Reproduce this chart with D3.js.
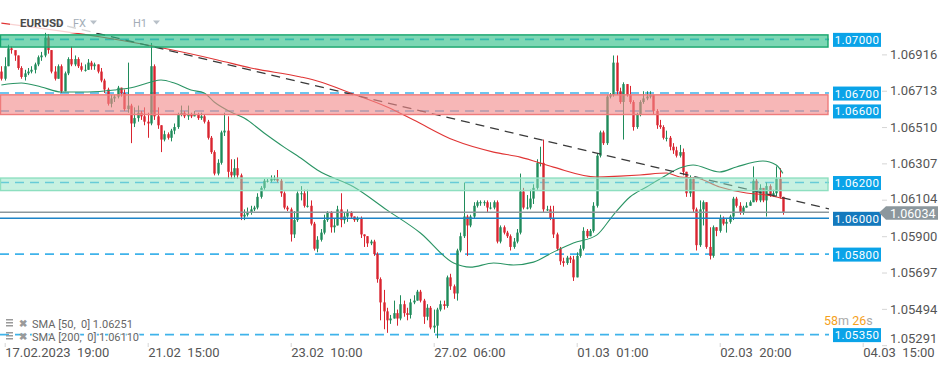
<!DOCTYPE html>
<html>
<head>
<meta charset="utf-8">
<script src="https://cdn.jsdelivr.net/npm/d3@7"></script>
<style>
  body { margin: 0; background: #fff; }
  svg { display: block; font-family: Roboto, "Open Sans", sans-serif; }
</style>
</head>
<body>
<div id="chart"></div>
<script>
// ---- data (EURUSD H1) ----
// bar 0 = 17.02.2023 19:00, one bar per trading hour
var firstBar = -1;
var firstOpen = 1.0682;
var closes = [
  1.0678, 1.0685, 1.0695, 1.0694, 1.0691, 1.0684, 1.0679, 1.0681, 1.0682, 1.0683,
  1.0686, 1.0690, 1.0691, 1.0701, 1.0694, 1.0682, 1.0678, 1.0685, 1.0671, 1.0681,
  1.0689, 1.0686, 1.0689, 1.0685, 1.0683, 1.0683, 1.0687, 1.0685, 1.0686, 1.0682,
  1.0677, 1.0672, 1.0664, 1.0667, 1.0668, 1.0673, 1.0670, 1.0661, 1.0663, 1.0653,
  1.0656, 1.0659, 1.0657, 1.0654, 1.0653, 1.0685, 1.0657, 1.0652, 1.0644, 1.0647,
  1.0645, 1.0649, 1.0651, 1.0658, 1.0659, 1.0657, 1.0658, 1.0657, 1.0658, 1.0656,
  1.0657, 1.0654, 1.0645, 1.0637, 1.0625, 1.0631, 1.0648, 1.0649, 1.0626, 1.0624,
  1.0628, 1.0624, 1.0601, 1.0602, 1.0603, 1.0605, 1.0606, 1.0612, 1.0617, 1.0621,
  1.0621, 1.0622, 1.0622, 1.0621, 1.0614, 1.0606, 1.0605, 1.0591, 1.0599, 1.0614,
  1.0614, 1.0607, 1.0607, 1.0597, 1.0583, 1.0588, 1.0592, 1.0599, 1.0603, 1.0595,
  1.0596, 1.0605, 1.0599, 1.0601, 1.0603, 1.0601, 1.0599, 1.0600, 1.0591, 1.0590,
  1.0586, 1.0587, 1.0580, 1.0566, 1.0553, 1.0548, 1.0543, 1.0544, 1.0547, 1.0544,
  1.0552, 1.0547, 1.0546, 1.0553, 1.0554, 1.0559, 1.0554, 1.0545, 1.0550, 1.0539,
  1.0540, 1.0549, 1.0552, 1.0551, 1.0567, 1.0562, 1.0558, 1.0582, 1.0590, 1.0601,
  1.0596, 1.0601, 1.0607, 1.0609, 1.0609, 1.0609, 1.0606, 1.0606, 1.0609, 1.0587,
  1.0595, 1.0592, 1.0590, 1.0584, 1.0587, 1.0592, 1.0615, 1.0606, 1.0606, 1.0611,
  1.0617, 1.0631, 1.0631, 1.0605, 1.0605, 1.0600, 1.0591, 1.0583, 1.0576, 1.0575,
  1.0578, 1.0577, 1.0567, 1.0579, 1.0583, 1.0593, 1.0590, 1.0593, 1.0607, 1.0635,
  1.0648, 1.0642, 1.0668, 1.0669, 1.0687, 1.0671, 1.0665, 1.0675, 1.0669, 1.0665,
  1.0651, 1.0658, 1.0665, 1.0667, 1.0668, 1.0669, 1.0660, 1.0652, 1.0651, 1.0645,
  1.0645, 1.0640, 1.0638, 1.0635, 1.0637, 1.0626, 1.0614, 1.0622, 1.0605, 1.0585,
  1.0605, 1.0609, 1.0584, 1.0579, 1.0595, 1.0593, 1.0600, 1.0597, 1.0598, 1.0601,
  1.0611, 1.0607, 1.0603, 1.0606, 1.0607, 1.0609, 1.0621, 1.0610, 1.0617, 1.0610,
  1.0618, 1.0613, 1.0614, 1.0622, 1.0612, 1.06034
];
var highs = [
  1.0685, 1.0690, 1.0697, 1.0696, 1.0693, 1.0691, 1.0685, 1.0683, 1.0684, 1.0685,
  1.0687, 1.0691, 1.0693, 1.0704, 1.0703, 1.0694, 1.0685, 1.0686, 1.0686, 1.0682,
  1.0690, 1.0696, 1.0691, 1.0690, 1.0687, 1.0686, 1.0689, 1.0688, 1.0687, 1.0686,
  1.0684, 1.0678, 1.0673, 1.0669, 1.0669, 1.0674, 1.0673, 1.0672, 1.0687, 1.0664,
  1.0662, 1.0663, 1.0660, 1.0662, 1.0659, 1.0698, 1.0686, 1.0662, 1.0652, 1.0649,
  1.0648, 1.0650, 1.0653, 1.0659, 1.0663, 1.0660, 1.0663, 1.0659, 1.0660, 1.0659,
  1.0659, 1.0658, 1.0655, 1.0646, 1.0638, 1.0633, 1.0649, 1.0659, 1.0657, 1.0633,
  1.0633, 1.0634, 1.0625, 1.0605, 1.0606, 1.0607, 1.0607, 1.0614, 1.0618, 1.0622,
  1.0622, 1.0624, 1.0624, 1.0627, 1.0622, 1.0615, 1.0607, 1.0606, 1.0604, 1.0615,
  1.0618, 1.0616, 1.0616, 1.0610, 1.0598, 1.0590, 1.0594, 1.0602, 1.0604, 1.0604,
  1.0600, 1.0607, 1.0614, 1.0603, 1.0605, 1.0604, 1.0601, 1.0601, 1.0601, 1.0591,
  1.0590, 1.0588, 1.0588, 1.0581, 1.0567, 1.0560, 1.0550, 1.0546, 1.0554, 1.0549,
  1.0557, 1.0554, 1.0550, 1.0555, 1.0557, 1.0560, 1.0560, 1.0555, 1.0552, 1.0551,
  1.0549, 1.0550, 1.0554, 1.0554, 1.0568, 1.0569, 1.0563, 1.0583, 1.0592, 1.0620,
  1.0602, 1.0602, 1.0609, 1.0610, 1.0610, 1.0610, 1.0610, 1.0609, 1.0610, 1.0610,
  1.0596, 1.0596, 1.0593, 1.0591, 1.0589, 1.0594, 1.0625, 1.0617, 1.0613, 1.0616,
  1.0619, 1.0633, 1.0640, 1.0644, 1.0607, 1.0607, 1.0607, 1.0592, 1.0584, 1.0578,
  1.0579, 1.0579, 1.0579, 1.0581, 1.0585, 1.0595, 1.0594, 1.0594, 1.0609, 1.0636,
  1.0649, 1.0649, 1.0669, 1.0670, 1.0691, 1.0691, 1.0673, 1.0676, 1.0675, 1.0674,
  1.0666, 1.0659, 1.0666, 1.0671, 1.0671, 1.0671, 1.0669, 1.0661, 1.0655, 1.0652,
  1.0649, 1.0646, 1.0642, 1.0640, 1.0641, 1.0639, 1.0626, 1.0624, 1.0623, 1.0606,
  1.0610, 1.0610, 1.0609, 1.0595, 1.0596, 1.0595, 1.0602, 1.0601, 1.0600, 1.0602,
  1.0612, 1.0612, 1.0609, 1.0607, 1.0609, 1.0610, 1.0629, 1.0622, 1.0619, 1.0616,
  1.0620, 1.0619, 1.0616, 1.0629, 1.0628, 1.0612
];
var lows = [
  1.0677, 1.0677, 1.0685, 1.0692, 1.0688, 1.0683, 1.0678, 1.0677, 1.0680, 1.0681,
  1.0681, 1.0685, 1.0688, 1.0690, 1.0692, 1.0681, 1.0677, 1.0678, 1.0670, 1.0671,
  1.0680, 1.0685, 1.0685, 1.0684, 1.0682, 1.0682, 1.0683, 1.0683, 1.0683, 1.0681,
  1.0676, 1.0670, 1.0663, 1.0662, 1.0665, 1.0667, 1.0668, 1.0660, 1.0659, 1.0642,
  1.0651, 1.0654, 1.0655, 1.0652, 1.0645, 1.0652, 1.0655, 1.0650, 1.0637, 1.0643,
  1.0644, 1.0643, 1.0647, 1.0650, 1.0657, 1.0656, 1.0655, 1.0656, 1.0657, 1.0655,
  1.0655, 1.0653, 1.0644, 1.0636, 1.0624, 1.0624, 1.0630, 1.0646, 1.0622, 1.0622,
  1.0622, 1.0622, 1.0599, 1.0599, 1.0601, 1.0602, 1.0604, 1.0605, 1.0611, 1.0616,
  1.0620, 1.0620, 1.0621, 1.0620, 1.0612, 1.0605, 1.0604, 1.0587, 1.0589, 1.0598,
  1.0610, 1.0606, 1.0606, 1.0596, 1.0582, 1.0581, 1.0587, 1.0591, 1.0598, 1.0592,
  1.0592, 1.0596, 1.0595, 1.0597, 1.0598, 1.0600, 1.0598, 1.0598, 1.0589, 1.0584,
  1.0584, 1.0585, 1.0579, 1.0564, 1.0543, 1.0538, 1.0536, 1.0541, 1.0544, 1.0540,
  1.0543, 1.0545, 1.0543, 1.0544, 1.0552, 1.0554, 1.0553, 1.0541, 1.0543, 1.0538,
  1.0536, 1.0533, 1.0548, 1.0549, 1.0550, 1.0560, 1.0555, 1.0554, 1.0581, 1.0589,
  1.0579, 1.0595, 1.0600, 1.0606, 1.0607, 1.0607, 1.0603, 1.0605, 1.0605, 1.0586,
  1.0586, 1.0591, 1.0589, 1.0582, 1.0583, 1.0586, 1.0591, 1.0605, 1.0605, 1.0605,
  1.0608, 1.0616, 1.0629, 1.0603, 1.0604, 1.0599, 1.0589, 1.0582, 1.0574, 1.0573,
  1.0574, 1.0575, 1.0565, 1.0567, 1.0578, 1.0582, 1.0589, 1.0590, 1.0592, 1.0606,
  1.0634, 1.0641, 1.0641, 1.0667, 1.0668, 1.0669, 1.0664, 1.0644, 1.0668, 1.0664,
  1.0649, 1.0650, 1.0657, 1.0664, 1.0666, 1.0667, 1.0658, 1.0650, 1.0650, 1.0644,
  1.0643, 1.0638, 1.0636, 1.0634, 1.0634, 1.0624, 1.0612, 1.0612, 1.0603, 1.0582,
  1.0584, 1.0596, 1.0583, 1.0577, 1.0578, 1.0590, 1.0592, 1.0596, 1.0592, 1.0597,
  1.0599, 1.0606, 1.0602, 1.0602, 1.0606, 1.0607, 1.0609, 1.0609, 1.0609, 1.0609,
  1.0601, 1.0612, 1.0612, 1.0612, 1.0611, 1.0602
];

// moving averages, read at these bars
var sma50Bars = [-1, 5, 11, 17, 25, 33, 39, 44, 47, 51, 56, 60, 63, 68, 72, 78, 84, 89, 94, 105,
  115, 125, 135, 140, 147, 153, 159, 165, 171, 178, 183, 188, 193, 198, 203, 207, 215, 220, 228, 232, 234];
var sma50Values = [1.06745, 1.06756, 1.06734, 1.06706, 1.06706, 1.06717, 1.06734, 1.06762, 1.06773, 1.06756,
  1.06717, 1.06700, 1.06650, 1.06594, 1.06560, 1.06477, 1.06398, 1.06337, 1.06270, 1.06175,
  1.06046, 1.05918, 1.05750, 1.05727, 1.05750, 1.05739, 1.05755, 1.05811, 1.05862, 1.05906,
  1.06018, 1.06119, 1.06175, 1.06231, 1.06281, 1.06298, 1.06259, 1.06287, 1.06320, 1.06298, 1.06251];
var sma200Bars = [-1, 29, 49, 64, 74, 89, 95, 104, 115, 123, 135, 147, 155, 165, 178, 185, 191, 199, 203, 208, 215, 223, 229, 234];
var sma200Values = [1.07091, 1.07013, 1.06946, 1.06885, 1.06840, 1.06790, 1.06762, 1.06700, 1.06622, 1.06549,
  1.06437, 1.06370, 1.06342, 1.06286, 1.06231, 1.06236, 1.06242, 1.06253, 1.06231, 1.06225,
  1.06175, 1.06141, 1.06130, 1.06110];

// drawn trend line (two anchor points)
var trendBars = [10, 248];
var trendValues = [1.07113, 1.06052];

// zones and levels
var zoneTops = [1.07025, 1.06690, 1.06225];
var zoneBottoms = [1.06957, 1.06580, 1.06155];
var dashedLevels = [1.07000, 1.06700, 1.06600, 1.06200, 1.05800, 1.05350];
var solidLevel = 1.06000;
var labelLevels = [1.07000, 1.06700, 1.06600, 1.06200, 1.06000, 1.05800, 1.05350];

// axes
var priceTicks = [1.06916, 1.06713, 1.06510, 1.06307, 1.06104, 1.05900, 1.05697, 1.05494, 1.05291];
var timeTickBars = [0, 43, 86, 129, 172, 215, 258];
var timeTickLabels = ["17.02.2023  19:00", "21.02  15:00", "23.02  10:00", "27.02  06:00",
  "01.03  01:00", "02.03  20:00", "04.03  15:00"];

var symbol = "EURUSD", market = "FX", timeframe = "H1";
var countdown = ["58", "m", " 26", "s"];

// ---- layout ----
var svgWidth = 949, svgHeight = 370;
var plotRight = 829, plotBottom = 345;

var x = d3.scaleLinear().domain([0, 258]).range([4.7, 862.7]);
var y = d3.scaleLinear().domain([1.05292, 1.07220]).range([plotBottom, 0]);

var svg = d3.select("#chart").append("svg")
  .attr("width", svgWidth)
  .attr("height", svgHeight);

svg.append("defs").append("clipPath").attr("id", "clip")
  .append("rect").attr("width", plotRight).attr("height", plotBottom);

var plot = svg.append("g").attr("clip-path", "url(#clip)");

// dashed levels (under everything)
plot.selectAll(".lvl").data(dashedLevels).enter().append("line")
  .attr("x1", 0).attr("x2", plotRight)
  .attr("y1", d => y(d)).attr("y2", d => y(d))
  .attr("stroke", "#3fb3ea")
  .attr("stroke-width", 1.6)
  .attr("stroke-dasharray", "9,6");

// candles
var bars = closes.map(function(c, k) {
  return { i: firstBar + k, o: k ? closes[k - 1] : firstOpen, h: highs[k], l: lows[k], c: c };
});
var up = "#1f8b5a", down = "#d9242f";
var barW = 2.4;

var candle = plot.selectAll(".bar").data(bars).enter().append("g");
candle.append("line")
  .attr("x1", d => Math.round(x(d.i)) + 0.5)
  .attr("x2", d => Math.round(x(d.i)) + 0.5)
  .attr("y1", d => y(d.h))
  .attr("y2", d => y(d.l))
  .attr("stroke", d => d.c >= d.o ? up : down)
  .attr("stroke-width", 1);
candle.append("rect")
  .attr("x", d => Math.round(x(d.i)) + 0.5 - barW / 2)
  .attr("width", barW)
  .attr("y", d => y(Math.max(d.o, d.c)))
  .attr("height", d => Math.max(1, Math.abs(y(d.o) - y(d.c))))
  .attr("fill", d => d.c >= d.o ? up : down);

// moving averages
var maLine = d3.line()
  .x(d => x(d[0]))
  .y(d => y(d[1]))
  .curve(d3.curveMonotoneX);

plot.append("path")
  .datum(d3.zip(sma200Bars, sma200Values))
  .attr("d", maLine)
  .attr("fill", "none")
  .attr("stroke", "#e03535")
  .attr("stroke-width", 1.1);

plot.append("path")
  .datum(d3.zip(sma50Bars, sma50Values))
  .attr("d", maLine)
  .attr("fill", "none")
  .attr("stroke", "#2a9464")
  .attr("stroke-width", 1.1);

// trend line
plot.append("path")
  .datum(d3.zip(trendBars, trendValues))
  .attr("d", d3.line().x(d => x(d[0])).y(d => y(d[1])))
  .attr("stroke", "#3a3a3a")
  .attr("stroke-width", 1.3)
  .attr("stroke-dasharray", "9,6");

// zones on top, semi transparent
var zoneFill = ["#2cbf86", "#f28b8b", "#8fe3c4"];
var zoneOpacity = [0.62, 0.62, 0.5];
var zoneStroke = ["#17a56c", "#ee7b7b", "#8edfc0"];
plot.selectAll(".zone").data(zoneTops).enter().append("rect")
  .attr("x", 0.5)
  .attr("width", plotRight - 1.5)
  .attr("y", d => y(d))
  .attr("height", (d, k) => y(zoneBottoms[k]) - y(d))
  .attr("fill", (d, k) => zoneFill[k])
  .attr("fill-opacity", (d, k) => zoneOpacity[k])
  .attr("stroke", (d, k) => zoneStroke[k])
  .attr("stroke-width", 1.4);

// solid level and last price line
plot.append("line")
  .attr("x1", 0).attr("x2", plotRight)
  .attr("y1", y(solidLevel)).attr("y2", y(solidLevel))
  .attr("stroke", "#1d84c8").attr("stroke-width", 1.6);

var lastPrice = closes[closes.length - 1];
plot.append("line")
  .attr("x1", 0).attr("x2", plotRight)
  .attr("y1", y(lastPrice)).attr("y2", y(lastPrice))
  .attr("stroke", "#8c979d").attr("stroke-width", 1.5);

// title overlay
svg.append("rect")
  .attr("x", 10).attr("y", 14).attr("width", 156).attr("height", 19)
  .attr("fill", "#fff").attr("fill-opacity", 0.78);
svg.append("text").attr("x", 20).attr("y", 27)
  .attr("font-size", 11.5).attr("font-weight", "bold").attr("fill", "#4a4a4a")
  .text(symbol);
svg.append("text").attr("x", 73).attr("y", 27)
  .attr("font-size", 11).attr("fill", "#a3adb7")
  .text(market);
svg.append("text").attr("x", 133).attr("y", 27)
  .attr("font-size", 11).attr("fill", "#a3adb7")
  .text(timeframe);
svg.selectAll(".caret").data([90, 153]).enter().append("path")
  .attr("d", d => "M" + d + ",20.5 L" + (d + 7) + ",20.5 L" + (d + 3.5) + ",24.5 Z")
  .attr("fill", "#b8c0c8");

// level labels on the right
var levelLabels = svg.selectAll(".lab").data(labelLevels).enter().append("g")
  .attr("transform", d => "translate(833," + (y(d) - 6.5) + ")");
levelLabels.append("rect")
  .attr("width", 48).attr("height", 14)
  .attr("fill", d => d === solidLevel ? "#1479bd" : "#0aa3e8");
levelLabels.append("text")
  .attr("x", 24).attr("y", 11)
  .attr("text-anchor", "middle")
  .attr("font-size", 11.5)
  .attr("letter-spacing", 0.4)
  .attr("fill", "#fff")
  .text(d => d3.format(".5f")(d));

// price axis
var yAxis = svg.append("g")
  .attr("transform", "translate(882,0)")
  .call(d3.axisRight(y).tickValues(priceTicks).tickSize(5).tickPadding(3).tickFormat(d3.format(".5f")));
yAxis.select(".domain").remove();
yAxis.selectAll(".tick line").attr("stroke", "#d5d5d5");
yAxis.selectAll(".tick text")
  .attr("font-size", 13)
  .attr("font-family", "Roboto, sans-serif")
  .attr("fill", "#555")
  .attr("dy", d => y(d) > plotBottom - 8 ? "-0.2em" : (d === 1.06104 ? "0.2em" : "0.32em"));

// current price tag
var tagY = y(lastPrice);
svg.append("path")
  .attr("d", "M879," + (tagY + 0.5) + " L886," + (tagY - 6) + " L938," + (tagY - 6) +
    " L938," + (tagY + 7.5) + " L886," + (tagY + 7.5) + " Z")
  .attr("fill", "#8c979d");
svg.append("text")
  .attr("x", 890).attr("y", tagY + 5.5)
  .attr("font-size", 12.5).attr("fill", "#fff")
  .text(d3.format(".5f")(lastPrice));

// time axis
var xAxis = svg.append("g")
  .attr("transform", "translate(0," + (plotBottom - 2) + ")")
  .call(d3.axisBottom(x).tickValues(timeTickBars).tickSize(4)
    .tickFormat((d, k) => timeTickLabels[k]));
xAxis.select(".domain").remove();
xAxis.selectAll(".tick line").attr("stroke", "#d5d5d5");
xAxis.selectAll(".tick text")
  .attr("text-anchor", "start")
  .attr("y", 5)
  .attr("font-size", 13)
  .attr("font-family", "Roboto, sans-serif")
  .attr("fill", "#555")
  .style("white-space", "pre");

// countdown to bar close
var cd = svg.append("text").attr("x", 824).attr("y", 324.5).attr("font-size", 12.5);
cd.selectAll("tspan").data(countdown).enter().append("tspan")
  .attr("fill", (d, k) => k % 2 ? "#a8a8a8" : "#f5a11c")
  .text(d => d);

// legend
var legendRows = [["SMA [50,  0]", sma50Values[sma50Values.length - 1]],
  ["SMA [200,  0]", sma200Values[sma200Values.length - 1]]];
var legend = svg.selectAll(".leg").data(legendRows).enter().append("g")
  .attr("transform", (d, k) => "translate(6," + (318 + k * 13) + ")");
legend.append("rect").attr("x", 0).attr("y", 1).attr("width", 7).attr("height", 1.5).attr("fill", "#9a9a9a");
legend.append("rect").attr("x", 0).attr("y", 4).attr("width", 7).attr("height", 1.5).attr("fill", "#9a9a9a");
legend.append("rect").attr("x", 0).attr("y", 7).attr("width", 7).attr("height", 1.5).attr("fill", "#9a9a9a");
legend.append("text").attr("x", 13).attr("y", 9)
  .attr("font-size", 10).attr("font-weight", "bold").attr("fill", "#9a9a9a")
  .text("\u2716");
legend.append("text").attr("x", 26).attr("y", 10)
  .attr("font-size", 11).attr("fill", "#666")
  .style("white-space", "pre")
  .attr("stroke", "#fff").attr("stroke-width", 2).attr("paint-order", "stroke")
  .text(d => d[0] + " " + d3.format(".5f")(d[1]));
</script>
</body>
</html>
